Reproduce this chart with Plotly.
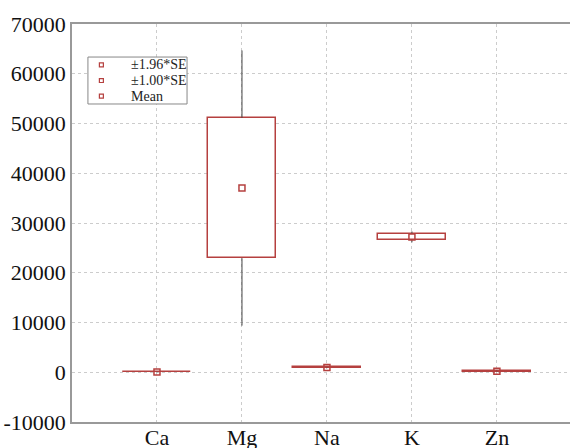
import plotly.graph_objects as go

categories = ["Ca", "Mg", "Na", "K", "Zn"]
means = [50, 37030, 950, 27200, 200]
se = [60, 14110, 60, 560, 70]
z_whisker = 1.96
legend_labels = ["±1.96*SE", "±1.00*SE", "Mean"]
y_ticks = [-10000, 0, 10000, 20000, 30000, 40000, 50000, 60000, 70000]
y_ticktext = ["-10000", "0", "10000", "20000", "30000", "40000", "50000", "60000", "70000"]

RED = "#b5403f"
GRAY = "#444444"
GRID = "#cccccc"
FONT = "Liberation Serif"

box_lo = [m - s for m, s in zip(means, se)]
box_hi = [m + s for m, s in zip(means, se)]
wh_lo = [m - z_whisker * s for m, s in zip(means, se)]
wh_hi = [m + z_whisker * s for m, s in zip(means, se)]

wx, wy = [], []
for c, a, b, p, q in zip(categories, wh_lo, box_lo, box_hi, wh_hi):
    wx += [c, c, None, c, c, None]
    wy += [a, b, None, p, q, None]

fig = go.Figure()
fig.add_trace(go.Scatter(x=wx, y=wy, mode="lines", line=dict(color=GRAY, width=1),
                         showlegend=False, hoverinfo="skip"))
fig.add_trace(go.Bar(x=categories, y=[h - l for h, l in zip(box_hi, box_lo)], base=box_lo,
                     width=0.8, marker=dict(color="white", line=dict(color=RED, width=1.5)),
                     showlegend=False, hoverinfo="skip"))
fig.add_trace(go.Scatter(x=categories, y=means, mode="markers",
                         marker=dict(symbol="square-open", size=6, color=RED, line=dict(width=1.5)),
                         showlegend=False))

# manual legend (paper coordinates)
lx0, lx1, ly1, ly0 = 0.032, 0.231, 0.917, 0.799
fig.add_shape(type="rect", xref="paper", yref="paper", x0=lx0, x1=lx1, y0=ly0, y1=ly1,
              line=dict(color="#888888", width=1), fillcolor="white", layer="above")
row_h = (ly1 - ly0) / 3.0
for i, lab in enumerate(legend_labels):
    yc = ly1 - row_h * (i + 0.5)
    fig.add_shape(type="rect", xref="paper", yref="paper",
                  x0=0.055, x1=0.063, y0=yc - 0.005, y1=yc + 0.005,
                  line=dict(color=RED, width=1.2), fillcolor="white", layer="above")
    fig.add_annotation(xref="paper", yref="paper", x=0.115, y=yc, text=lab, showarrow=False,
                       xanchor="left", yanchor="middle",
                       font=dict(size=14, family=FONT, color="#222222"))

fig.update_layout(
    width=570, height=448,
    margin=dict(l=72, r=0, t=24, b=26, autoexpand=False),
    paper_bgcolor="white", plot_bgcolor="white",
    font=dict(family=FONT, color="#222222"),
    showlegend=False,
    bargap=0,
)
fig.update_xaxes(type="category", range=[-1, 4.86], showgrid=True, gridcolor=GRID, griddash="dot",
                 gridwidth=1, showline=True, linecolor="#999999", linewidth=1.5, mirror=True,
                 tickfont=dict(size=22, family=FONT, color="#111111"), automargin=False,
                 ticks="", ticklabelstandoff=-5, zeroline=False)
fig.update_yaxes(range=[-10000, 70000], tickvals=y_ticks, ticktext=y_ticktext,
                 showgrid=True, gridcolor=GRID, griddash="dot", automargin=False,
                 gridwidth=1, showline=True, linecolor="#999999", linewidth=1.5,
                 tickfont=dict(size=22, family=FONT, color="#111111"),
                 ticks="", zeroline=False)
fig.write_html("out.html", config={"displayModeBar": False},
               post_script="document.body.style.margin='0';document.body.style.overflow='hidden';")
